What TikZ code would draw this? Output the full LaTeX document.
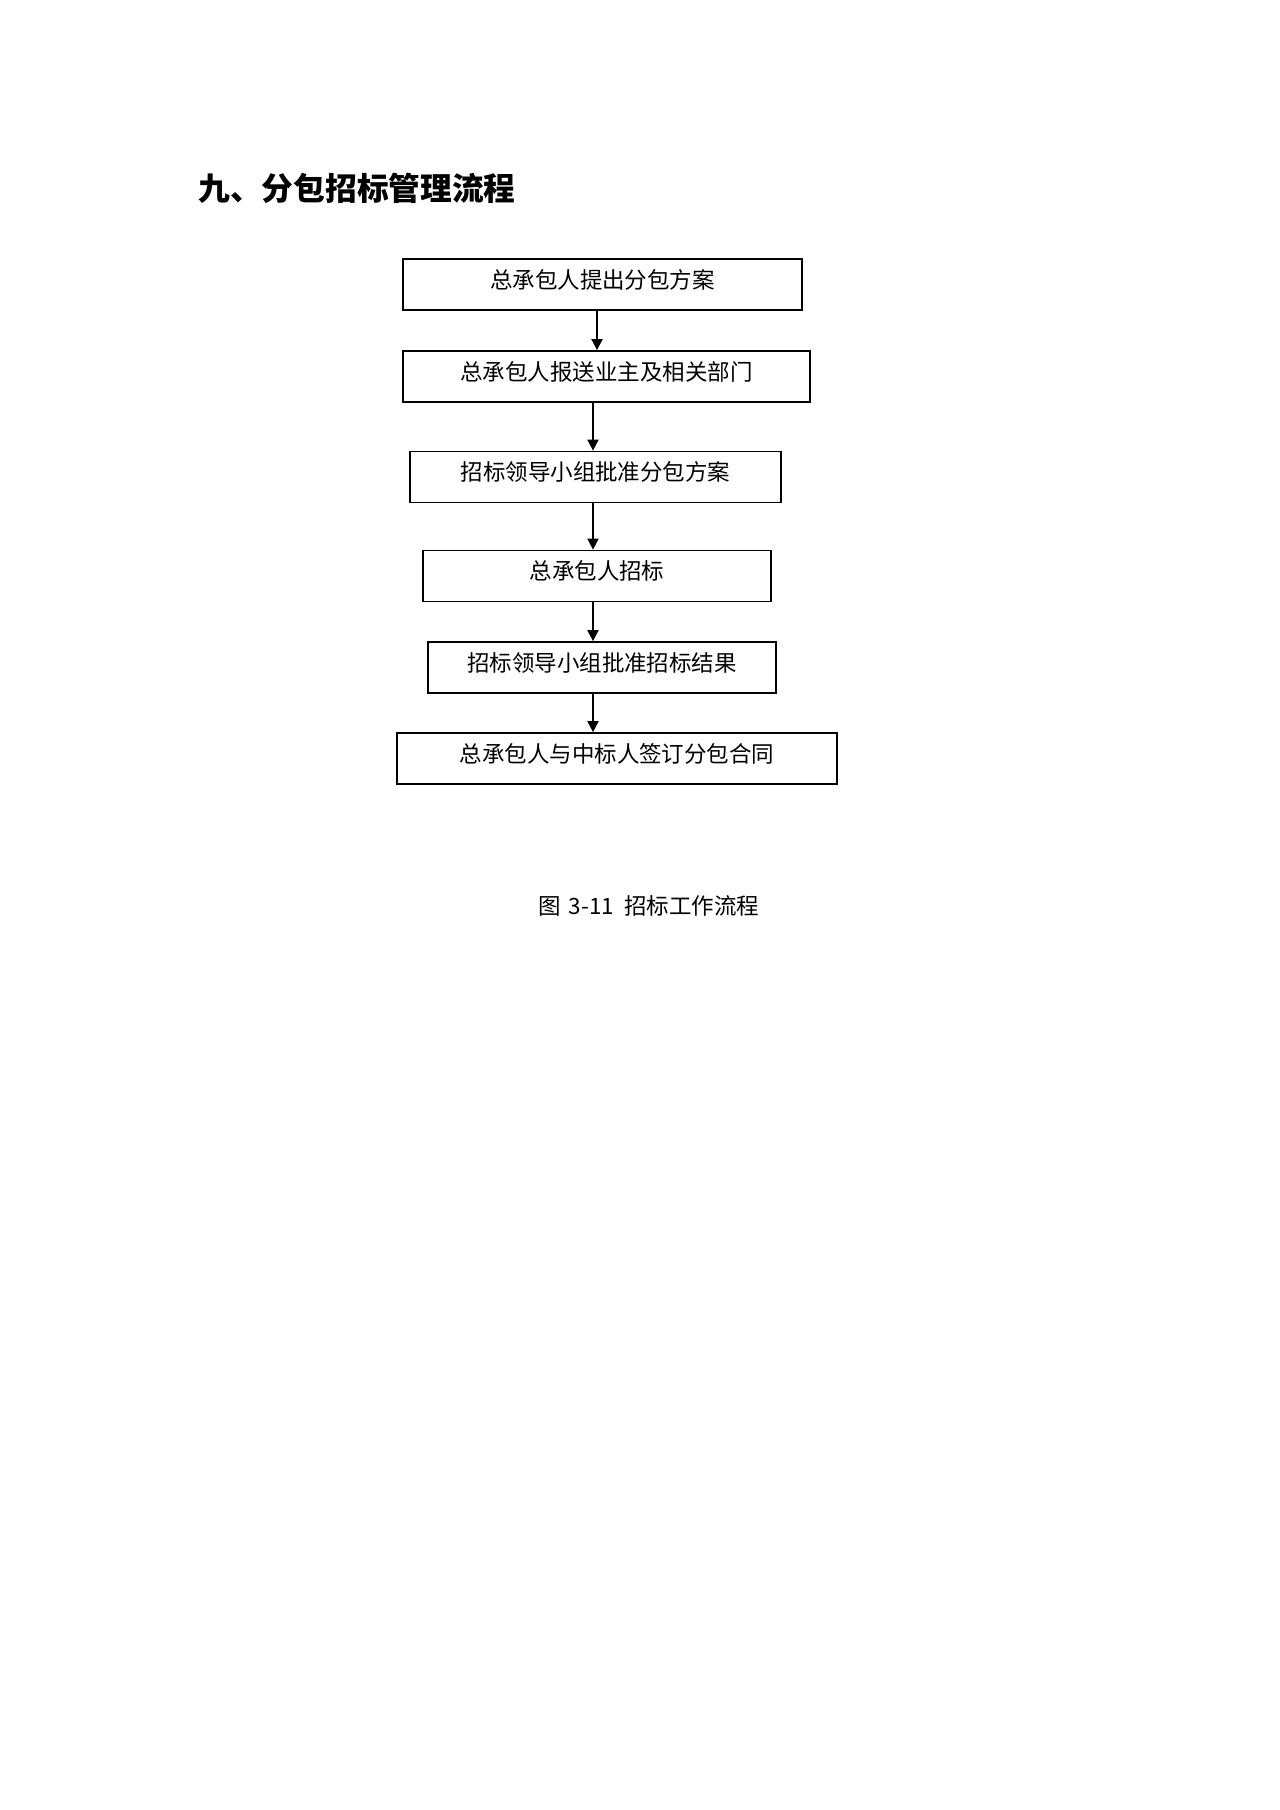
\documentclass[tikz,border=0pt]{standalone}
\usepackage{fontspec}
\setmainfont{Noto Sans CJK SC}
\usepackage{tikz}
\usetikzlibrary{positioning,arrows.meta}
\newlength\unitpx
\setlength\unitpx{0.1640625mm}
\tikzset{stepbox/.style={draw,line width=0.8pt,inner sep=0pt,minimum height=51\unitpx,text height=0.88em,text depth=0.55em,font=\fontsize{10.5pt}{12pt}\selectfont}}
\tikzset{flow/.style={-{Triangle[length=5.2pt,width=5.2pt]},line width=0.8pt}}

\begin{document}
\begin{tikzpicture}[x=0.1640625mm,y=-0.1640625mm]
  \useasboundingbox (0,0) rectangle (1280,1810);
  \node[anchor=west,font=\fontsize{14.8pt}{18pt}\selectfont\bfseries] (title) at (191,188) {九、分包招标管理流程};

  \node[stepbox,minimum width=399\unitpx] (n1) at (602.5,284.5) {总承包人提出分包方案};
  \node[stepbox,minimum width=407\unitpx] (n2) at (606.5,376.5) {总承包人报送业主及相关部门};
  \node[stepbox,minimum width=371\unitpx] (n3) at (595.5,477) {招标领导小组批准分包方案};
  \node[stepbox,minimum width=348\unitpx] (n4) at (597,576) {总承包人招标};
  \node[stepbox,minimum width=348\unitpx] (n5) at (602,667.5) {招标领导小组批准招标结果};
  \node[stepbox,minimum width=440\unitpx] (n6) at (617,758.5) {总承包人与中标人签订分包合同};

  \coordinate (a1) at (597,0);
  \coordinate (a2) at (593,0);
  \draw[flow] (n1.south -| a1) -- (n2.north -| a1);
  \draw[flow] (n2.south -| a2) -- (n3.north -| a2);
  \draw[flow] (n3.south -| a2) -- (n4.north -| a2);
  \draw[flow] (n4.south -| a2) -- (n5.north -| a2);
  \draw[flow] (n5.south -| a2) -- (n6.north -| a2);

  \node[anchor=west,font=\fontsize{10.5pt}{12pt}\selectfont] (cap) at (531,906) {图\hspace{0.35em}3-11\hspace{0.45em}招标工作流程};
\end{tikzpicture}
\end{document}
